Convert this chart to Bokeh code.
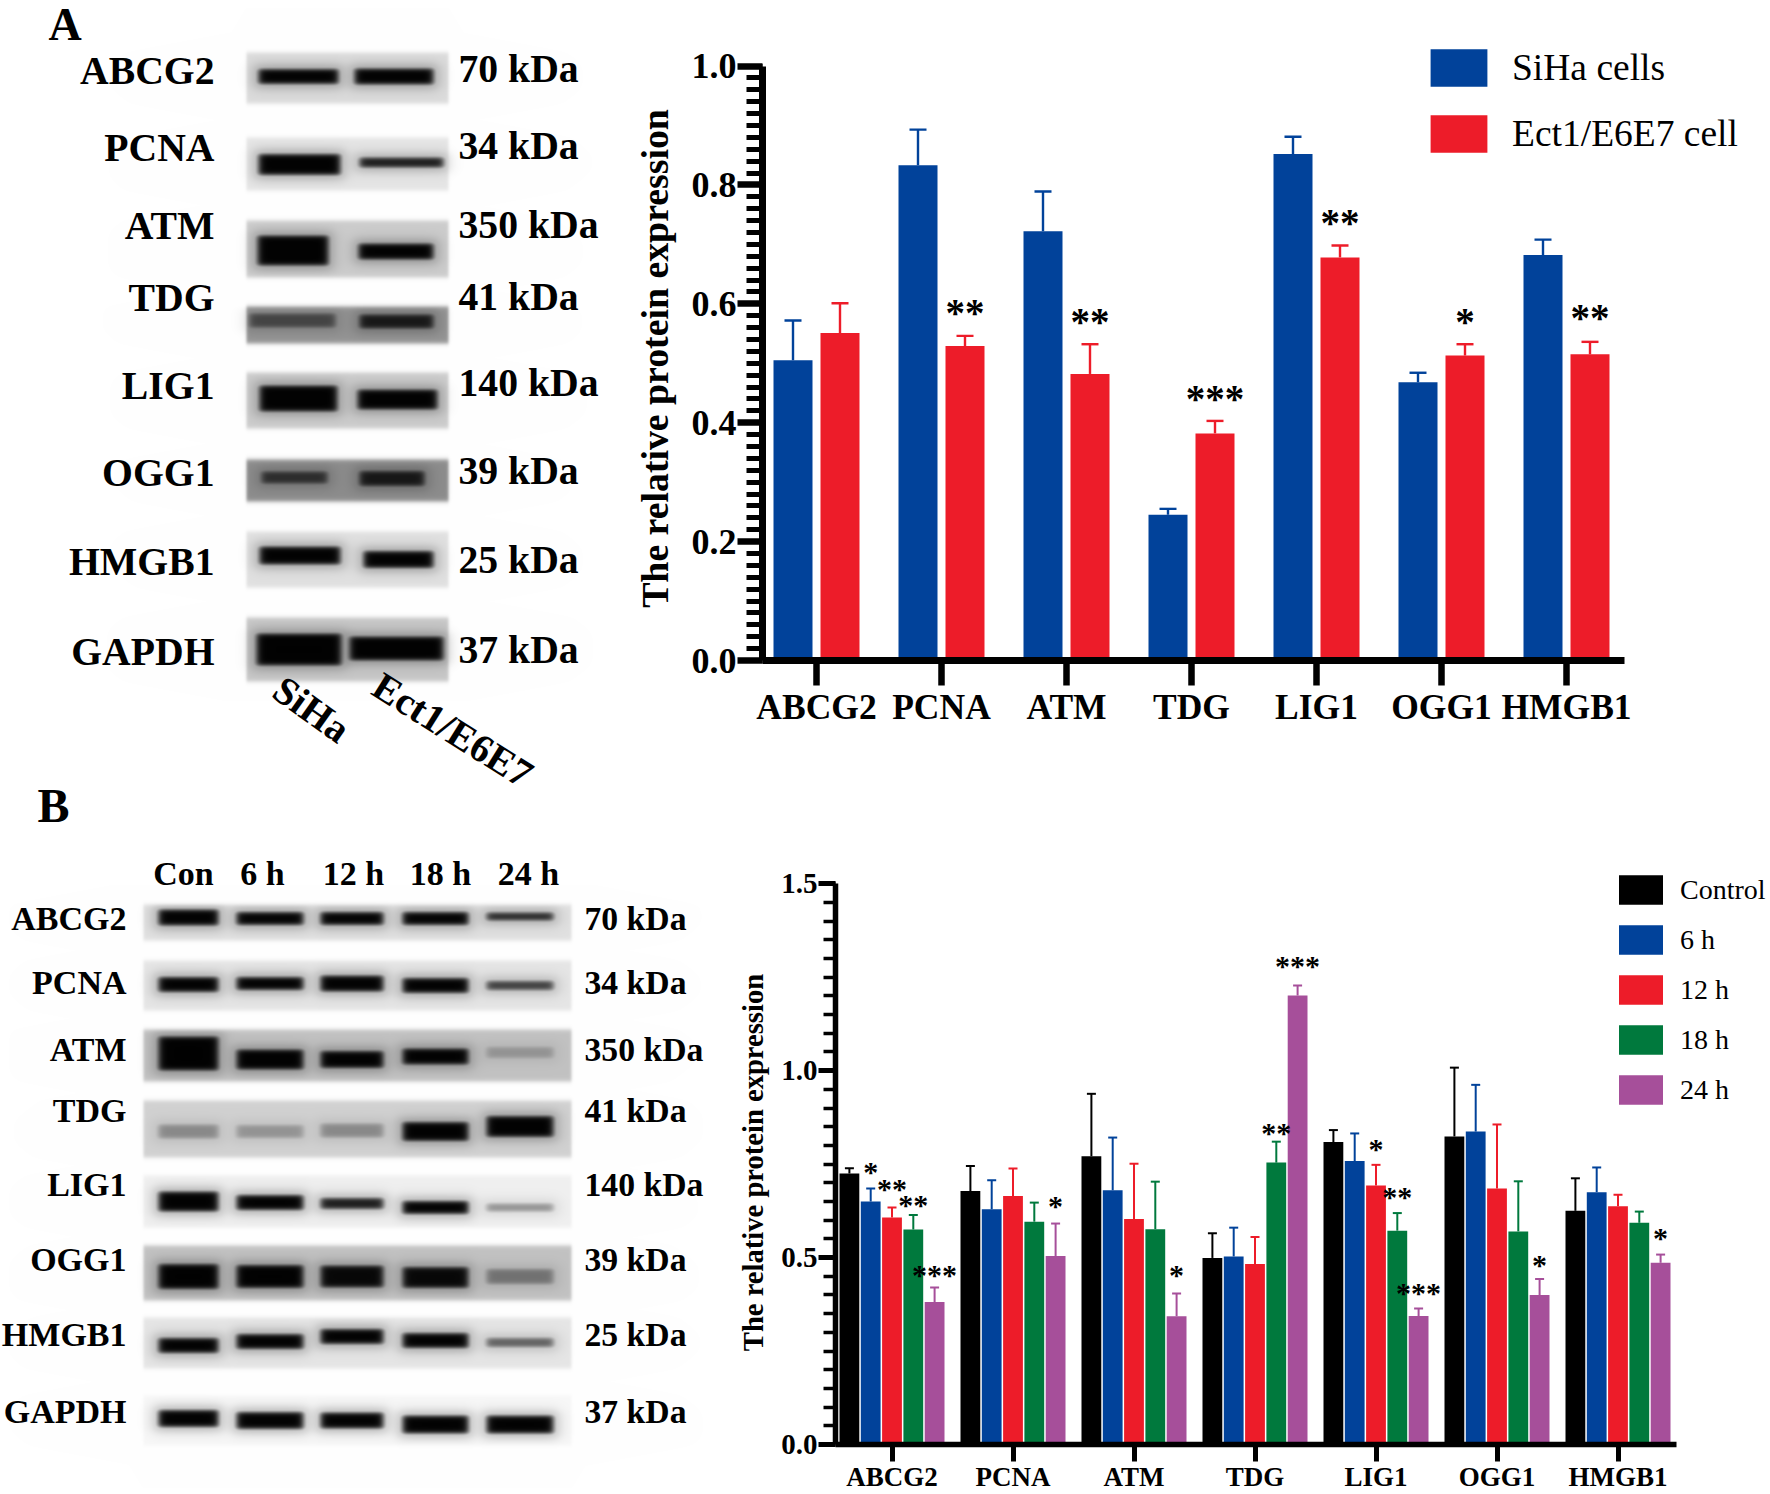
import numpy as np
from bokeh.core.properties import value
from bokeh.embed import file_html
from bokeh.layouts import column, row
from bokeh.models import (ColumnDataSource, FixedTicker, Legend, LegendItem, Range1d, TeeHead, Whisker)
from bokeh.plotting import figure
from bokeh.resources import INLINE

SERIF = "Liberation Serif"
PAGE_H = 1494
Y_TITLE = "The relative protein expression"

# ---------- chart data ----------
categories = ["ABCG2", "PCNA", "ATM", "TDG", "LIG1", "OGG1", "HMGB1"]

siha_mean = [0.505, 0.833, 0.722, 0.245, 0.852, 0.468, 0.682]
siha_top = [0.572, 0.893, 0.789, 0.255, 0.881, 0.484, 0.708]
ect_mean = [0.551, 0.529, 0.482, 0.382, 0.678, 0.513, 0.515]
ect_top = [0.601, 0.546, 0.532, 0.403, 0.698, 0.532, 0.536]
stars_a_text = ["**", "**", "***", "**", "*", "**"]
stars_a_cat = [1, 2, 3, 4, 5, 6]
stars_a_val = [0.591, 0.576, 0.445, 0.741, 0.576, 0.582]

series_b_names = ["Control", "6 h", "12 h", "18 h", "24 h"]
control_mean = [0.725, 0.678, 0.771, 0.499, 0.809, 0.824, 0.625]
control_top = [0.739, 0.745, 0.938, 0.565, 0.841, 1.008, 0.712]
h6_mean = [0.650, 0.629, 0.680, 0.503, 0.758, 0.837, 0.675]
h6_top = [0.685, 0.707, 0.821, 0.580, 0.832, 0.962, 0.741]
h12_mean = [0.607, 0.665, 0.603, 0.483, 0.693, 0.685, 0.637]
h12_top = [0.634, 0.738, 0.751, 0.555, 0.748, 0.856, 0.668]
h18_mean = [0.575, 0.596, 0.576, 0.754, 0.572, 0.570, 0.593]
h18_top = [0.614, 0.647, 0.703, 0.810, 0.619, 0.704, 0.623]
h24_mean = [0.381, 0.504, 0.343, 1.201, 0.344, 0.400, 0.486]
h24_top = [0.420, 0.591, 0.404, 1.228, 0.364, 0.443, 0.508]
stars_b_text = ["*", "**", "**", "***", "*", "*", "**", "***", "*", "**", "***", "*", "*"]
stars_b_cat = [0, 0, 0, 0, 1, 2, 3, 3, 4, 4, 4, 5, 6]
stars_b_series = [1, 2, 3, 4, 4, 4, 3, 4, 2, 3, 4, 4, 4]
stars_b_val = [0.736, 0.690, 0.647, 0.459, 0.645, 0.459, 0.841, 1.287, 0.798, 0.670, 0.411, 0.486, 0.560]

# ---------- blot panel texts ----------
blot_proteins = ["ABCG2", "PCNA", "ATM", "TDG", "LIG1", "OGG1", "HMGB1", "GAPDH"]
blot_kda = ["70 kDa", "34 kDa", "350 kDa", "41 kDa", "140 kDa", "39 kDa", "25 kDa", "37 kDa"]
lanes_b = ["Con", "6 h", "12 h", "18 h", "24 h"]

# ---------- colours ----------
BLUE, RED, GREEN, PURPLE, BLACK = "#01429A", "#ED1C29", "#00793D", "#A64F9A", "#000000"

# ---------- western-blot drawings (picture geometry, page pixels) ----------
# row: (top, bottom, background level)
a_box_x = (246, 448)
a_rows = [(52, 103, .86), (137, 190, .90), (220, 277, .80), (306, 343, .58),
          (372, 428, .80), (459, 501, .55), (531, 587, .88), (617, 681, .78)]
# band: (row, x0, x1, y centre, thickness, darkness)
a_bands = [(0, 258, 338, 76, 13, 1), (0, 354, 433, 76, 14, 1),
           (1, 258, 340, 164, 19, 1), (1, 359, 443, 162, 8, .9),
           (2, 257, 328, 250, 28, 1), (2, 358, 433, 251, 14, 1),
           (3, 249, 335, 320, 12, .55), (3, 359, 433, 321, 12, .85),
           (4, 259, 337, 398, 24, 1), (4, 357, 437, 399, 18, 1),
           (5, 261, 327, 477, 10, .7), (5, 359, 424, 478, 13, .85),
           (6, 259, 340, 555, 16, 1), (6, 363, 433, 559, 15, 1),
           (7, 256, 341, 649, 30, 1), (7, 349, 443, 648, 22, 1)]
b_box_x = (143, 571)
b_rows = [(904, 940, .88), (960, 1010, .90), (1029, 1081, .76), (1100, 1157, .82),
          (1175, 1227, .94), (1245, 1300, .76), (1317, 1368, .90), (1395, 1445, .97)]
lane_x = [(158, 218), (236, 303), (320, 383), (402, 468), (486, 553)]
# per blot row, per lane: (y centre, thickness, darkness)
b_lane_bands = [
    [(917, 14, 1), (918, 11, 1), (918, 11, 1), (918, 11, 1), (916, 6, .85)],
    [(984, 13, 1), (983, 11, 1), (983, 14, 1), (985, 13, 1), (985, 7, .75)],
    [(1053, 32, 1), (1059, 18, 1), (1059, 15, 1), (1056, 14, 1), (1052, 9, .25)],
    [(1131, 12, .35), (1131, 11, .3), (1130, 12, .35), (1131, 17, 1), (1126, 19, 1)],
    [(1201, 18, 1), (1202, 13, 1), (1203, 9, .9), (1207, 11, 1), (1207, 6, .4)],
    [(1276, 23, 1), (1276, 21, 1), (1276, 20, .97), (1277, 19, .97), (1276, 13, .42)],
    [(1345, 13, 1), (1341, 13, 1), (1336, 13, 1), (1340, 13, 1), (1342, 7, .6)],
    [(1418, 15, 1), (1420, 15, 1), (1420, 14, 1), (1424, 16, 1), (1424, 16, 1)],
]


def soft_box(c, a, b, s):
    return 0.5 * (np.tanh((c - a) / s) - np.tanh((c - b) / s))


def blot_image(width, top, bottom, box_x, rows, bands):
    xs = np.arange(width) + 0.5
    ys = np.arange(top, bottom) + 0.5
    X, Y = np.meshgrid(xs, ys)
    g = np.ones_like(X)
    for (y0, y1, bg) in rows:
        g *= 1 - (1 - bg) * soft_box(X, box_x[0], box_x[1], 1.5) * soft_box(Y, y0, y1, 2.5)
    for (r, x0, x1, yc, t, d) in bands:
        y0, y1, _ = rows[r]
        t = t + 2
        mask = soft_box(Y, y0, y1, 2.0)
        core = soft_box(X, x0, x1, 4) * soft_box(Y, yc - t / 2, yc + t / 2, 2.6)
        halo = soft_box(X, x0 - 4, x1 + 4, 8) * soft_box(Y, yc - t / 2 - 4, yc + t / 2 + 4, 6)
        g *= 1 - d * mask * np.maximum(core * 0.99, halo * 0.28)
    v = np.clip(g * 255, 0, 255).astype(np.uint32)
    rgba = (255 << 24) | (v << 16) | (v << 8) | v
    return np.flipud(rgba.astype(np.uint32))


def base_fig(w, top, bottom, **kw):
    f = figure(width=w, height=bottom - top, output_backend="svg", toolbar_location=None,
               x_range=Range1d(0, w), y_range=Range1d(PAGE_H - bottom, PAGE_H - top),
               x_axis_type=None, y_axis_type=None, min_border=0, outline_line_color=None, frame_align=False, **kw)
    f.grid.visible = False
    return f


def put(f, xs, ys, texts, size, align="left", angle=0, style="bold"):
    f.text(x=xs, y=[PAGE_H - y for y in ys], text=texts, text_font=value(SERIF), text_font_style=style,
           text_font_size=size, text_align=align, text_baseline="middle", text_color="#000000", angle=angle)


# ---------- panel A: blots ----------
a_left = base_fig(680, 0, 806, margin=(0, 0, -20, 0))
a_left.image_rgba(image=[blot_image(680, 0, 700, a_box_x, a_rows, a_bands)], x=0, y=PAGE_H - 700, dw=680, dh=700)
put(a_left, [48], [24], ["A"], "46px")
put(a_left, [214] * 8, [70, 147, 225, 297, 385, 472, 561, 651], blot_proteins, "39.7px", "right")
put(a_left, [458] * 8, [68, 145, 224, 296, 382, 470, 559, 649], blot_kda, "39.7px")
put(a_left, [277], [685], ["SiHa"], "39.5px", "left", angle=-0.62)
put(a_left, [376], [682], ["Ect1/E6E7"], "39.5px", "left", angle=-0.56)
put(a_left, [654], [358], [Y_TITLE], "37.8px", "center", angle=np.pi / 2)

# ---------- panel B: blots ----------
b_bands = [(r, lane_x[l][0], lane_x[l][1], *b_lane_bands[r][l]) for r in range(8) for l in range(5)]
b_left = base_fig(775, 770, PAGE_H, margin=(-16, 0, 0, 0), background_fill_color=None, border_fill_color=None)
b_left.image_rgba(image=[blot_image(775, 885, PAGE_H, b_box_x, b_rows, b_bands)], x=0, y=0, dw=775, dh=PAGE_H - 885)
put(b_left, [37], [805], ["B"], "48px")
put(b_left, [183, 262, 353, 440, 528], [873] * 5, lanes_b, "34px", "center")
bl_y = [918, 982, 1049, 1110, 1184, 1259, 1334, 1411]
put(b_left, [126] * 8, bl_y, blot_proteins, "34px", "right")
put(b_left, [584] * 8, bl_y, blot_kda, "33.7px")
put(b_left, [753], [1162], [Y_TITLE], "28.6px", "center", angle=np.pi / 2)


def style_axes(f, tick_w, major_out, minor_out, line_w, label_size, x_size, y_vals, minors, label_std, x_std, x_bounds):
    ya, xa = f.yaxis[0], f.xaxis[0]
    xa.ticker = FixedTicker(ticks=list(range(7)))
    xa.major_label_overrides = {i: c for i, c in enumerate(categories)}
    xa.bounds = x_bounds
    ya.bounds = (y_vals[0], y_vals[-1])
    ya.ticker = FixedTicker(ticks=y_vals, minor_ticks=minors)
    ya.major_label_overrides = {float(v): f"{v:.1f}" for v in y_vals}
    for ax in (xa, ya):
        ax.axis_line_width = line_w
        ax.axis_line_color = "#000000"
        ax.major_tick_line_color = "#000000"
        ax.major_tick_line_width = tick_w
        ax.major_tick_in = 0
        ax.major_tick_out = major_out
        ax.major_label_text_font = SERIF
        ax.major_label_text_font_style = "bold"
        ax.major_label_text_color = "#000000"
    xa.minor_tick_line_color = None
    ya.minor_tick_line_color = "#000000"
    ya.minor_tick_line_width = tick_w - 1.5
    ya.minor_tick_in = 0
    ya.minor_tick_out = minor_out
    ya.major_label_text_font_size = label_size
    xa.major_label_text_font_size = x_size
    ya.major_label_standoff = label_std
    xa.major_label_standoff = x_std
    f.grid.visible = False
    f.outline_line_color = None


def bars(f, means, tops, xpos, width, color, cap, lw):
    src = ColumnDataSource(dict(x=xpos, top=means, up=tops))
    r = f.vbar(x="x", top="top", bottom=0, width=width, source=src, fill_color=color, line_color=None)
    f.add_layout(Whisker(base="x", upper="up", lower="top", source=src, line_color=color, line_width=lw,
                         upper_head=TeeHead(size=cap, line_color=color, line_width=lw), lower_head=None))
    return r


# ---------- panel A: chart ----------
a_step = 125.0
ca = figure(width=1090, height=786, output_backend="svg", toolbar_location=None, frame_align=False,
            x_range=Range1d(-54 / a_step, (1770 - 816) / a_step), y_range=Range1d(0, 660 / 594.5),
            min_border_left=82, min_border_right=0, min_border_top=0, min_border_bottom=126)
style_axes(ca, 6.5, 25, 16, 7, "36px", "35.5px", [0, .2, .4, .6, .8, 1.0],
           [round(i * .02, 2) for i in range(51)], 1, 1, (-54 / a_step, 6 + 58 / a_step))
cat_x = np.arange(7)
r1 = bars(ca, siha_mean, siha_top, list(cat_x - 23.5 / a_step), 39 / a_step, BLUE, 17, 2.4)
r2 = bars(ca, ect_mean, ect_top, list(cat_x + 23.5 / a_step), 39 / a_step, RED, 17, 2.4)
ca.text(x=[c + 23.5 / a_step for c in stars_a_cat], y=stars_a_val, text=stars_a_text, text_font=value(SERIF),
        text_font_style="bold", text_font_size="39px", text_align="center", text_baseline="middle", y_offset=3)
leg_a = Legend(items=[LegendItem(label="SiHa cells", renderers=[r1]), LegendItem(label="Ect1/E6E7 cell", renderers=[r2])],
               location=(661, 503), orientation="vertical", glyph_width=71, glyph_height=47, label_height=47,
               spacing=19, label_standoff=18, padding=0, margin=0, border_line_color=None, background_fill_alpha=0,
               label_text_font=SERIF, label_text_font_size="37.5px", label_text_color="#000000")
ca.add_layout(leg_a, "center")

# ---------- panel B: chart ----------
b_step = 121.0
cb = figure(width=995, height=708, output_backend="svg", toolbar_location=None, frame_align=False,
            x_range=Range1d(-56.5 / b_step, (1770 - 891.5) / b_step), y_range=Range1d(0, 660 / 375),
            min_border_left=60, min_border_right=0, min_border_top=0, min_border_bottom=48)
style_axes(cb, 5, 17, 12, 5.5, "29px", "27px", [0, .5, 1.0, 1.5],
           [round(i * .05, 2) for i in range(31)], 1, 0, (-56.5 / b_step, 6 + 58.5 / b_step))
d = 21.3 / b_step
b_means = [control_mean, h6_mean, h12_mean, h18_mean, h24_mean]
b_tops = [control_top, h6_top, h12_top, h18_top, h24_top]
b_cols = [BLACK, BLUE, RED, GREEN, PURPLE]
b_rend = []
for i in range(5):
    b_rend.append(bars(cb, b_means[i], b_tops[i], list(cat_x + (i - 2) * d), 19.8 / b_step, b_cols[i], 9, 2))
cb.text(x=[c + (s - 2) * d for c, s in zip(stars_b_cat, stars_b_series)], y=stars_b_val, text=stars_b_text,
        text_font=value(SERIF), text_font_style="bold", text_font_size="30px", text_align="center",
        text_baseline="middle", y_offset=2)
leg_b = Legend(items=[LegendItem(label=n, renderers=[r]) for n, r in zip(series_b_names, b_rend)],
               location=(778, 336), orientation="vertical", glyph_width=55, glyph_height=37, label_height=37,
               spacing=13, label_standoff=12, padding=0, margin=0, border_line_color=None, background_fill_alpha=0,
               label_text_font=SERIF, label_text_font_size="28px", label_text_color="#000000")
cb.add_layout(leg_b, "center")

page = column(row(a_left, ca, spacing=0), row(b_left, cb, spacing=0), spacing=0)
open("out.html", "w").write(file_html(page, INLINE))
